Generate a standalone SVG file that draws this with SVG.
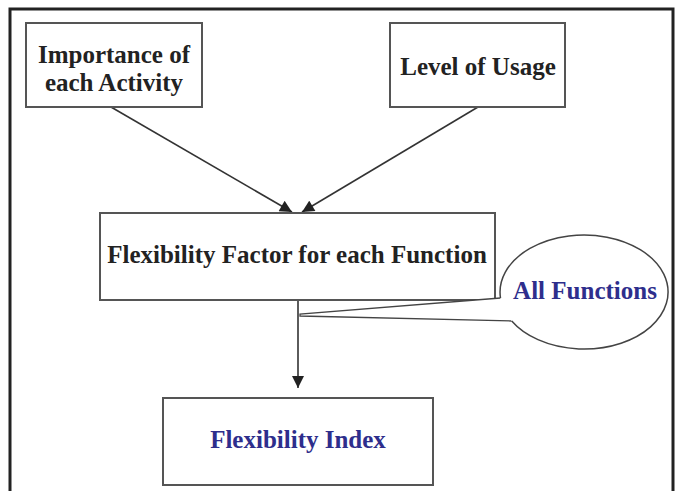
<svg xmlns="http://www.w3.org/2000/svg" width="682" height="491" viewBox="0 0 682 491">
  <defs>
    <marker id="arrow" viewBox="0 0 10 10" refX="10" refY="5" markerWidth="13" markerHeight="12" markerUnits="userSpaceOnUse" orient="auto">
      <path d="M0,0 L10,5 L0,10 Z" fill="#222"/>
    </marker>
    <style>
      .box { fill: #fff; stroke: #555; stroke-width: 2; }
      .lbl { font-family: "Liberation Serif", "Times New Roman", serif; font-weight: bold; font-size: 25px; fill: #222; text-anchor: middle; }
      .blue { fill: #2e2e8c; }
      .conn { stroke: #333; stroke-width: 1.6; fill: none; }
    </style>
  </defs>
  <rect width="682" height="491" fill="#fff"/>
  <!-- outer frame -->
  <path d="M10,495 V9 H673 V495" fill="none" stroke="#222" stroke-width="3"/>

  <g id="connectors">
    <line class="conn" x1="111" y1="107" x2="292" y2="212" marker-end="url(#arrow)"/>
    <line class="conn" x1="478" y1="107" x2="302" y2="212" marker-end="url(#arrow)"/>
    <line class="conn" x1="298" y1="300" x2="298" y2="388" marker-end="url(#arrow)"/>
  </g>

  <g id="importance">
    <rect class="box" x="26" y="23" width="176" height="84"/>
    <text class="lbl" x="114" y="63">Importance of</text>
    <text class="lbl" x="114" y="91">each Activity</text>
  </g>

  <g id="usage">
    <rect class="box" x="390" y="23" width="175" height="84"/>
    <text class="lbl" x="478" y="75">Level of Usage</text>
  </g>

  <g id="factor">
    <rect class="box" x="100" y="213" width="395" height="87"/>
    <text class="lbl" x="297" y="263">Flexibility Factor for each Function</text>
  </g>

  <g id="all-functions">
    <path d="M500.5,298 L300,314 L300,316 L511.7,321" fill="#fff" stroke="#444" stroke-width="1.3"/>
    <path d="M500.5,298 A84,57 0 1,1 511.7,321" fill="#fff" stroke="#444" stroke-width="1.5"/>
    <text class="lbl blue" x="585" y="299">All Functions</text>
  </g>

  <g id="index">
    <rect class="box" x="163" y="398" width="270" height="87"/>
    <text class="lbl blue" x="298" y="448">Flexibility Index</text>
  </g>
</svg>
